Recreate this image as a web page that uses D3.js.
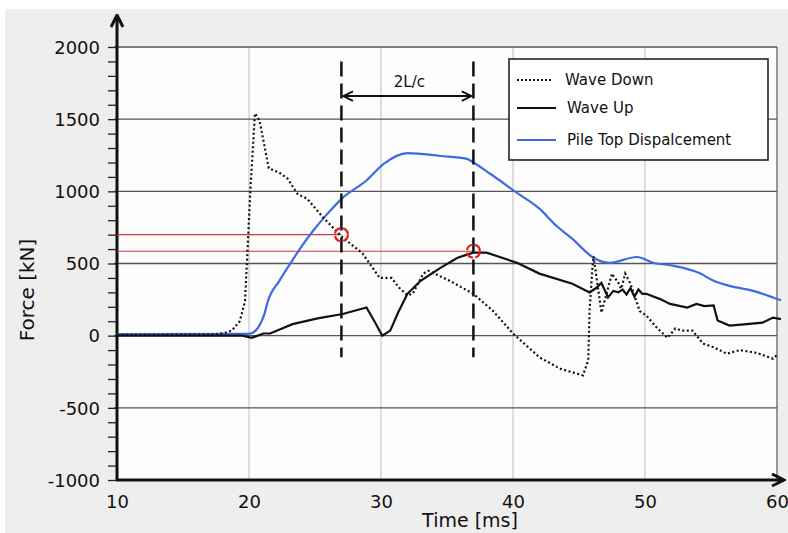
<!DOCTYPE html>
<html><head><meta charset="utf-8">
<script src="https://cdn.jsdelivr.net/npm/d3@7/dist/d3.min.js"></script>
<style>body{margin:0;background:#fff}svg{display:block}text{font-family:"DejaVu Sans",sans-serif;fill:#111}</style>
</head><body><svg id="c" width="788" height="533"></svg>
<script>
const xTicks=[10,20,30,40,50,60];
const yTicks=[-1000,-500,0,500,1000,1500,2000];
const legendLabels=["Wave Down","Wave Up","Pile Top Dispalcement"];
const waveDown=[[10,5],[17.5,8],[18.2,20],[18.7,35],[19.3,100],[19.7,240],[19.85,520],[20.1,1000],[20.45,1540],[20.8,1490],[21.5,1160],[22.3,1130],[22.9,1090],[23.7,980],[24.4,950],[25.6,820],[27.1,680],[28.6,570],[29.9,400],[30.8,400],[31.4,330],[32.0,280],[32.4,290],[33.2,430],[33.6,450],[35.2,380],[37.0,290],[38.5,170],[40.0,15],[42.0,-150],[43.6,-230],[45.3,-275],[45.7,-170],[45.8,170],[46.0,450],[46.1,550],[46.7,160],[47.5,430],[47.7,400],[47.9,380],[48.2,325],[48.5,430],[48.9,360],[49.6,170],[50.1,140],[50.9,55],[51.7,-15],[52.3,50],[52.8,35],[53.6,35],[54.4,-55],[55.2,-80],[56.2,-125],[57.2,-100],[58.5,-120],[59.7,-160],[60.1,-125]];
const waveUp=[[10,0],[19.5,0],[20.2,-15],[21.1,15],[21.6,15],[23.3,80],[25.2,120],[27.1,150],[28.9,195],[29.5,100],[30.1,0],[30.7,35],[31.3,160],[32.0,290],[33.0,380],[34.5,470],[35.8,540],[37.0,575],[38.0,575],[40.3,505],[42.0,430],[44.5,360],[45.8,300],[46.3,330],[46.7,365],[47.2,265],[47.6,310],[48.0,300],[48.3,320],[48.6,285],[48.9,330],[49.2,270],[49.5,320],[49.8,290],[50.1,290],[51.1,255],[51.9,220],[53.2,195],[53.9,220],[54.5,205],[55.2,210],[55.5,105],[56.4,70],[57.7,80],[58.9,90],[59.7,125],[60.3,115]];
const pileTop=[[10,10],[20,12],[20.5,35],[20.9,90],[21.2,160],[21.4,230],[22.3,380],[23.2,510],[24.0,620],[24.8,720],[25.8,830],[27.1,955],[28.9,1075],[30.2,1190],[32.0,1265],[34.5,1245],[36.5,1225],[37.0,1200],[38.3,1120],[40.3,990],[42.0,880],[43.3,760],[44.5,670],[46.1,540],[47.3,505],[49.4,545],[50.6,505],[52.1,485],[54.2,430],[55.2,380],[56.4,345],[58.2,310],[59.7,265],[60.3,245]];
const markTimes=[27,37];
const markForces=[700,585];
const label2L="2L/c";

const svg=d3.select("#c");
const L=117,R=777,T=47,B=480;
const x=d3.scaleLinear().domain([10,60]).range([L,R]);
const y=d3.scaleLinear().domain([-1000,2000]).range([B,T]);

svg.append("rect").attr("x",5).attr("y",9).attr("width",783).attr("height",524).attr("fill","#eeeeee");
svg.append("rect").attr("x",L).attr("y",T).attr("width",R-L).attr("height",B-T).attr("fill","#fdfdfd");

// vertical grid
svg.append("g").selectAll("line").data(xTicks.filter(d=>d>10&&d<60)).join("line")
 .attr("x1",d=>x(d)).attr("x2",d=>x(d)).attr("y1",T).attr("y2",B).attr("stroke","#c8c8c8").attr("stroke-width",1.2);
svg.append("line").attr("x1",R).attr("x2",R).attr("y1",T).attr("y2",B).attr("stroke","#777").attr("stroke-width",1.5);
// horizontal grid
svg.append("g").selectAll("line").data(yTicks.filter(d=>d>-1000)).join("line")
 .attr("x1",L-3).attr("x2",R).attr("y1",d=>y(d)).attr("y2",d=>y(d)).attr("stroke","#555").attr("stroke-width",1.3);

// y axis with minor ticks
const yAxis=d3.axisLeft(y).tickValues(d3.range(-1000,2001,100)).tickSize(9).tickFormat(d=>yTicks.includes(d)?d:"");
const ga=svg.append("g").attr("transform",`translate(${L},0)`).call(yAxis);
ga.select(".domain").remove();
ga.selectAll("line").attr("stroke","#222").attr("stroke-width",1.3);
ga.selectAll("text").attr("x",-17).attr("font-size",18).attr("dy","0.35em").attr("fill","#111");

// x axis labels
const xAxis=d3.axisBottom(x).tickValues(xTicks).tickSize(0);
const gx=svg.append("g").attr("transform",`translate(0,${B})`).call(xAxis);
gx.select(".domain").remove();
gx.selectAll("text").attr("y",15).attr("font-size",18).attr("fill","#111");

// axes lines with arrows
svg.append("defs").append("marker").attr("id","ah").attr("viewBox","0 0 10 10").attr("refX",9).attr("refY",5)
 .attr("markerWidth",5).attr("markerHeight",5).attr("orient","auto")
 .append("path").attr("d","M1,1 L9,5 L1,9").attr("fill","none").attr("stroke","#111").attr("stroke-width",2);
svg.append("line").attr("x1",L).attr("y1",B+1).attr("x2",L).attr("y2",15).attr("stroke","#111").attr("stroke-width",3).attr("marker-end","url(#ah)");
svg.append("line").attr("x1",L-1).attr("y1",B).attr("x2",784).attr("y2",B).attr("stroke","#111").attr("stroke-width",3).attr("marker-end","url(#ah)");

// red reference lines
svg.append("g").selectAll("line").data(markForces).join("line")
 .attr("x1",L).attr("x2",(d,i)=>x(markTimes[i])).attr("y1",d=>y(d)).attr("y2",d=>y(d)).attr("stroke","#d03a3a").attr("stroke-width",1.2);

// curves
const line=d3.line().x(d=>x(d[0])).y(d=>y(d[1]));
const smooth=d3.line().x(d=>x(d[0])).y(d=>y(d[1])).curve(d3.curveMonotoneX);
svg.append("path").datum(pileTop).attr("d",smooth).attr("fill","none").attr("stroke","#3f6be0").attr("stroke-width",2.2);
svg.append("path").datum(waveUp).attr("d",line).attr("fill","none").attr("stroke","#111").attr("stroke-width",2.2);
svg.append("path").datum(waveDown).attr("d",line).attr("fill","none").attr("stroke","#111").attr("stroke-width",2.2).attr("stroke-dasharray","2,2.5");

// dashed verticals
svg.append("g").selectAll("line").data(markTimes).join("line")
 .attr("x1",d=>x(d)).attr("x2",d=>x(d)).attr("y1",y(1900)).attr("y2",y(-150)).attr("stroke","#111").attr("stroke-width",2.5).attr("stroke-dasharray","15,7");

// red circle markers
svg.append("g").selectAll("circle").data(markForces).join("circle")
 .attr("cx",(d,i)=>x(markTimes[i])).attr("cy",d=>y(d)).attr("r",6.5).attr("fill","none")
 .attr("stroke","#e02020").attr("stroke-width",2.2).attr("stroke-dasharray","8,2.5");

// 2L/c arrow
svg.append("defs").append("marker").attr("id","ah2").attr("viewBox","0 0 10 10").attr("refX",9).attr("refY",5)
 .attr("markerWidth",6).attr("markerHeight",6).attr("orient","auto-start-reverse")
 .append("path").attr("d","M1,1 L9,5 L1,9").attr("fill","none").attr("stroke","#111").attr("stroke-width",1.6);
svg.append("line").attr("x1",x(markTimes[0])+2).attr("x2",x(markTimes[1])-2).attr("y1",y(1660)).attr("y2",y(1660))
 .attr("stroke","#111").attr("stroke-width",2).attr("marker-start","url(#ah2)").attr("marker-end","url(#ah2)");
svg.append("text").attr("x",(x(markTimes[0])+x(markTimes[1]))/2+2).attr("y",y(1660)-9).attr("text-anchor","middle").attr("font-size",15).text(label2L);

// legend
const lg=svg.append("g");
lg.append("rect").attr("x",509).attr("y",59).attr("width",259).attr("height",101).attr("fill","#fff").attr("stroke","#222").attr("stroke-width",1.6);
const ly=[80,108,140];
const styles=[{c:"#111",d:"2,2"},{c:"#111",d:null},{c:"#3f6be0",d:null}];
legendLabels.forEach((t,i)=>{
 lg.append("line").attr("x1",517).attr("x2",i==0?551:556).attr("y1",ly[i]).attr("y2",ly[i]).attr("stroke",styles[i].c).attr("stroke-width",i==0?1.8:2.2).attr("stroke-dasharray",styles[i].d);
 lg.append("text").attr("x",i==0?565:567).attr("y",ly[i]).attr("dy","0.35em").attr("font-size",15).text(t);
});

// axis titles
svg.append("text").attr("transform","translate(34,290) rotate(-90)").attr("text-anchor","middle").attr("font-size",20).text("Force [kN]");
svg.append("text").attr("x",470).attr("y",527).attr("text-anchor","middle").attr("font-size",19).text("Time [ms]");
</script></body></html>
